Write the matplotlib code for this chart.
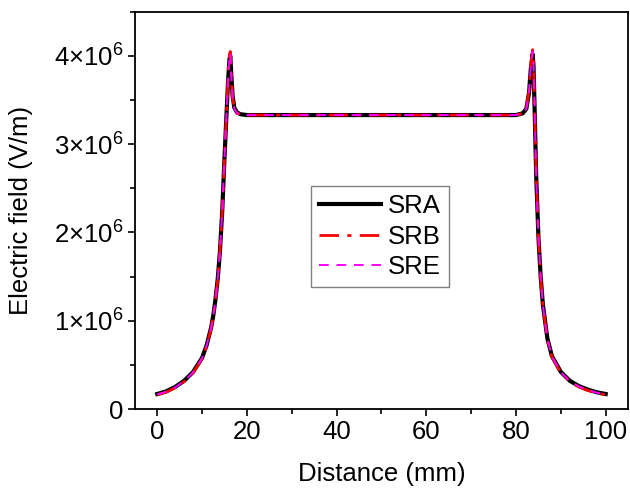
import numpy as np
import matplotlib
matplotlib.use("Agg")
import matplotlib.pyplot as plt
from matplotlib.ticker import FixedLocator, MultipleLocator, FuncFormatter

plt.rcParams['font.family'] = ['Liberation Sans', 'DejaVu Sans']
plt.rcParams['mathtext.fontset'] = 'custom'
plt.rcParams['mathtext.rm'] = 'Liberation Sans'
plt.rcParams['mathtext.it'] = 'Liberation Sans'

# distance (mm) and field (V/m)
distance = [0, 2, 4, 6, 8, 10, 11, 12, 12.5, 13, 13.5, 14, 14.5, 15, 15.5, 15.8,
            16.1, 16.3, 16.5, 16.8, 17.2, 17.8, 18.5, 20, 30, 40, 50, 60, 70, 80,
            81.5, 82.3, 82.9, 83.3, 83.7, 83.9, 84.2, 84.5, 85, 85.5, 86, 87, 88,
            90, 92, 94, 96, 98, 100]
sra = [0.17e6, 0.20e6, 0.25e6, 0.32e6, 0.42e6, 0.58e6, 0.72e6, 0.92e6, 1.06e6, 1.25e6,
       1.48e6, 1.80e6, 2.25e6, 2.85e6, 3.40e6, 3.72e6, 3.96e6, 4.00e6, 3.80e6, 3.55e6,
       3.41e6, 3.36e6, 3.34e6, 3.33e6, 3.33e6, 3.33e6, 3.33e6, 3.33e6, 3.33e6, 3.33e6,
       3.35e6, 3.40e6, 3.58e6, 3.85e6, 4.02e6, 3.90e6, 3.30e6, 2.65e6, 1.95e6, 1.50e6,
       1.18e6, 0.80e6, 0.60e6, 0.42e6, 0.32e6, 0.26e6, 0.22e6, 0.19e6, 0.17e6]
srb = [0.16e6, 0.19e6, 0.24e6, 0.31e6, 0.41e6, 0.57e6, 0.71e6, 0.91e6, 1.05e6, 1.24e6,
       1.47e6, 1.79e6, 2.24e6, 2.84e6, 3.42e6, 3.76e6, 4.02e6, 4.05e6, 3.80e6, 3.53e6,
       3.40e6, 3.35e6, 3.34e6, 3.33e6, 3.33e6, 3.33e6, 3.33e6, 3.33e6, 3.33e6, 3.33e6,
       3.35e6, 3.41e6, 3.60e6, 3.90e6, 4.07e6, 3.95e6, 3.32e6, 2.66e6, 1.95e6, 1.50e6,
       1.17e6, 0.79e6, 0.59e6, 0.41e6, 0.31e6, 0.25e6, 0.21e6, 0.18e6, 0.16e6]
sre = [0.165e6, 0.195e6, 0.245e6, 0.315e6, 0.415e6, 0.575e6, 0.715e6, 0.915e6, 1.055e6,
       1.245e6, 1.475e6, 1.795e6, 2.245e6, 2.845e6, 3.41e6, 3.74e6, 3.99e6, 4.03e6,
       3.80e6, 3.54e6, 3.40e6, 3.35e6, 3.34e6, 3.33e6, 3.33e6, 3.33e6, 3.33e6, 3.33e6,
       3.33e6, 3.33e6, 3.35e6, 3.40e6, 3.59e6, 3.88e6, 4.05e6, 3.93e6, 3.31e6, 2.65e6,
       1.95e6, 1.50e6, 1.175e6, 0.795e6, 0.595e6, 0.415e6, 0.315e6, 0.255e6, 0.215e6,
       0.185e6, 0.165e6]

fig = plt.figure(figsize=(6.3, 4.91), dpi=100)
ax = fig.add_axes([0.214, 0.167, 0.783, 0.809])

ax.plot(distance, sra, color='black', lw=3, ls='-', label='SRA')
ax.plot(distance, srb, color='red', lw=2, ls=(0, (7, 3, 1.5, 3)), label='SRB')
ax.plot(distance, sre, color='magenta', lw=1.4, ls=(0, (5, 4)), label='SRE')

ax.set_xlim(-5, 105)
ax.set_ylim(0, 4.5e6)
ax.xaxis.set_major_locator(MultipleLocator(20))
ax.xaxis.set_minor_locator(MultipleLocator(10))
ax.yaxis.set_major_locator(FixedLocator([0, 1e6, 2e6, 3e6, 4e6]))
ax.yaxis.set_minor_locator(MultipleLocator(0.5e6))

def fmt(v, pos):
    if v == 0:
        return '0'
    return r'$%d{\times}10^{6}$' % round(v / 1e6)

ax.yaxis.set_major_formatter(FuncFormatter(fmt))
ax.tick_params(which='major', direction='out', length=5, width=1.2, labelsize=18.5, pad=3)
ax.tick_params(which='minor', direction='out', length=3.5, width=1.2)
for s in ax.spines.values():
    s.set_linewidth(1.3)

ax.set_xlabel('Distance (mm)', fontsize=18.5, labelpad=13)
ax.set_ylabel('Electric field (V/m)', fontsize=18.5, labelpad=15)

leg = ax.legend(loc='center', bbox_to_anchor=(0.497, 0.434), fontsize=18.5,
                fancybox=False, edgecolor='gray', framealpha=1,
                handlelength=2.4, borderpad=0.3, labelspacing=0.25,
                handletextpad=0.3, borderaxespad=0)
leg.get_frame().set_linewidth(1.0)

fig.savefig('out.png', dpi=100)
